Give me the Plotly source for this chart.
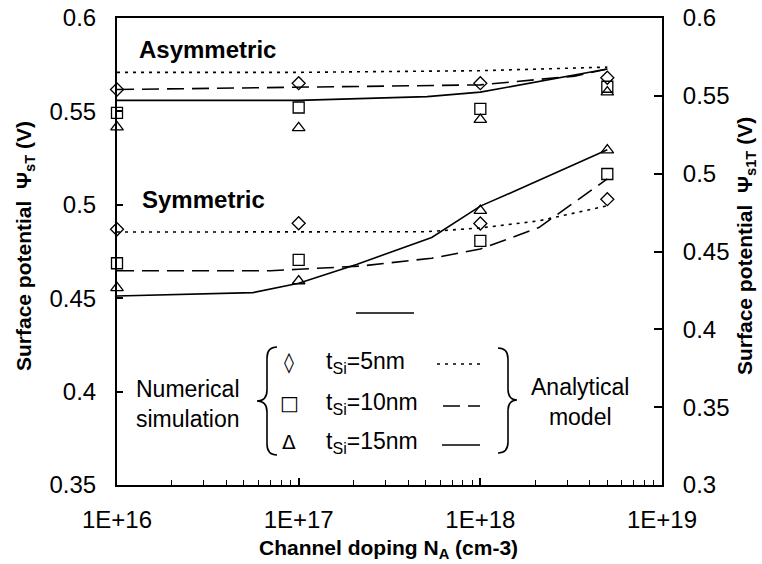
import plotly.graph_objects as go

# ---------------- data ----------------
doping = [1e16, 1e17, 1e18, 5e18]

# numerical simulation (markers)
asym_5nm = [0.5617, 0.5651, 0.5651, 0.5680]
asym_10nm = [0.5492, 0.5521, 0.5513, 0.5632]
asym_15nm = [0.5416, 0.5412, 0.5456, 0.5603]
sym_5nm = [0.4869, 0.4901, 0.4900, 0.5030]
sym_10nm = [0.4687, 0.4705, 0.4807, 0.5165]
sym_15nm = [0.4555, 0.4592, 0.4969, 0.5293]

# analytical model (lines)
asym_model_5_x = [1e16, 1e17, 1e18, 5e18]
asym_model_5_y = [0.5709, 0.5709, 0.5718, 0.5737]
asym_model_10_x = [1e16, 1e17, 1e18, 3.3e18, 5e18]
asym_model_10_y = [0.5617, 0.5628, 0.5642, 0.5689, 0.5727]
asym_model_15_x = [1e16, 1e17, 5.1e17, 1e18, 5e18]
asym_model_15_y = [0.5559, 0.5559, 0.5579, 0.5603, 0.5727]

sym_model_5_x = [1e16, 1e17, 5e17, 1e18, 2.1e18, 5e18]
sym_model_5_y = [0.4854, 0.4854, 0.4856, 0.4876, 0.4914, 0.4995]
sym_model_10_x = [1e16, 7e16, 1e17, 2.2e17, 5.4e17, 1e18, 2.1e18, 5e18]
sym_model_10_y = [0.4647, 0.4647, 0.4655, 0.4672, 0.4714, 0.4763, 0.4878, 0.5139]
sym_model_15_x = [1e16, 5.6e16, 1e17, 2.1e17, 5.4e17, 1e18, 1.55e18, 5e18]
sym_model_15_y = [0.4512, 0.4530, 0.4580, 0.4682, 0.4825, 0.4993, 0.5074, 0.5295]

x_tick_vals = [1e16, 1e17, 1e18, 1e19]
x_tick_text = ["1E+16", "1E+17", "1E+18", "1E+19"]
x_minor_vals = [k * 10 ** e for e in (16, 17, 18) for k in range(2, 10)]

legend_labels = ["t<sub>Si</sub>=5nm", "t<sub>Si</sub>=10nm", "t<sub>Si</sub>=15nm"]
legend_glyphs = ["\u25CA", "\u25A1", "\u0394"]

# ---------------- geometry helpers ----------------
W, H = 762, 564
L, R, T, B = 117, 100, 18, 79
PW, PH = W - L - R, H - T - B


def px(x):
    return (x - L) / PW


def py(y):
    return (H - B - y) / PH


FONT = "Liberation Sans, Arial, sans-serif"
BLACK = "#000000"

fig = go.Figure()

marker_syms = ["diamond-open", "square-open", "triangle-up-open"]
marker_sizes = [10, 11, 11]
for ys, ms, sz in zip([asym_5nm, asym_10nm, asym_15nm], marker_syms, marker_sizes):
    fig.add_trace(go.Scatter(x=doping, y=ys, mode="markers",
                             marker=dict(symbol=ms, size=sz, color=BLACK, line=dict(width=1.3, color=BLACK)),
                             cliponaxis=False, showlegend=False))
for ys, ms, sz in zip([sym_5nm, sym_10nm, sym_15nm], marker_syms, marker_sizes):
    fig.add_trace(go.Scatter(x=doping, y=ys, mode="markers",
                             marker=dict(symbol=ms, size=sz, color=BLACK, line=dict(width=1.3, color=BLACK)),
                             cliponaxis=False, showlegend=False))

dashes = ["3px,5px", "17px,8px", "solid"]
model_sets = [
    (asym_model_5_x, asym_model_5_y), (asym_model_10_x, asym_model_10_y), (asym_model_15_x, asym_model_15_y),
    (sym_model_5_x, sym_model_5_y), (sym_model_10_x, sym_model_10_y), (sym_model_15_x, sym_model_15_y),
]
for i, (xs, ys) in enumerate(model_sets):
    fig.add_trace(go.Scatter(x=xs, y=ys, mode="lines",
                             line=dict(color=BLACK, width=1.6, dash=dashes[i % 3]),
                             showlegend=False))

# dummy trace for right axis
fig.add_trace(go.Scatter(x=[1e16], y=[0.3], yaxis="y2", mode="markers",
                         marker=dict(opacity=0), showlegend=False, hoverinfo="skip"))

TICKFONT = dict(size=24, family=FONT, color=BLACK)
fig.update_layout(
    width=W, height=H,
    margin=dict(l=L, r=R, t=T, b=B, autoexpand=False),
    paper_bgcolor="white", plot_bgcolor="white",
    font=dict(family=FONT, color=BLACK, size=23),
    xaxis=dict(type="log", range=[16, 19], tickmode="array", tickvals=x_tick_vals, ticktext=x_tick_text,
               ticks="inside", ticklen=7, tickwidth=1.5, tickcolor=BLACK,
               minor=dict(tickmode="array", tickvals=x_minor_vals, ticks="inside", ticklen=5,
                          tickwidth=1, tickcolor=BLACK, showgrid=False),
               showline=True, linecolor=BLACK, linewidth=2, mirror=True,
               showgrid=False, zeroline=False, ticklabelstandoff=12,
               tickfont=TICKFONT, automargin=False),
    yaxis=dict(range=[0.35, 0.6], tick0=0.35, dtick=0.05, ticks="inside", ticklen=6, tickwidth=1.5,
               tickcolor=BLACK, showline=True, linecolor=BLACK, linewidth=2,
               showgrid=False, zeroline=False, ticklabelstandoff=14,
               tickfont=TICKFONT, automargin=False),
    yaxis2=dict(range=[0.3, 0.6], tick0=0.3, dtick=0.05, overlaying="y", side="right", anchor="x",
                ticks="inside", ticklen=8, tickwidth=1.5, tickcolor=BLACK,
                showline=True, linecolor=BLACK, linewidth=2,
                showgrid=False, zeroline=False, ticklabelstandoff=14,
                tickfont=TICKFONT, automargin=False),
)


def note(text, x, y, size=23, xanchor="center", **kw):
    return dict(text=text, x=px(x), y=py(y), xref="paper", yref="paper", showarrow=False,
                xanchor=xanchor, yanchor="middle", font=dict(size=size, family=kw.pop("family", FONT), color=BLACK),
                **kw)


ann = []
# axis titles
ann.append(note("<b>Channel doping N<sub>A</sub> (cm-3)</b>", 388, 549, size=21))
ann.append(note("<b>Surface potential  \u03A8<sub>sT</sub> (V)</b>", 25, 246, size=21, textangle=-90))
ann.append(note("<b>Surface potential  \u03A8<sub>s1T</sub> (V)</b>", 746, 246, size=21, textangle=-90))
# group labels
ann.append(note("<b>Asymmetric</b>", 137, 50, size=24, xanchor="left"))
ann.append(note("<b>Symmetric</b>", 140, 199, size=24, xanchor="left"))
# legend texts
ann.append(note("Numerical<br>simulation", 188, 404, align="center"))
ann.append(note("Analytical<br>model", 580, 402, align="center"))
legend_rows = [362, 403, 442]
for lab, gl, yy in zip(legend_labels, legend_glyphs, legend_rows):
    ann.append(note(lab, 324, yy, xanchor="left"))
    ann.append(note(gl, 289, yy, size=20, family="DejaVu Sans"))
fig.update_layout(annotations=ann)

shapes = []
# legend line samples
sample_y = [364, 406, 445]
sample_x0 = [437, 443, 442]
for yy, x0, d in zip(sample_y, sample_x0, dashes):
    shapes.append(dict(type="line", xref="paper", yref="paper", x0=px(x0), x1=px(480), y0=py(yy), y1=py(yy),
                       line=dict(color=BLACK, width=1.6, dash=d)))


def brace_path(pts):
    out = []
    for cmd, coords in pts:
        s = " ".join(f"{px(a):.5f},{py(b):.5f}" for a, b in coords)
        out.append(f"{cmd} {s}")
    return " ".join(out)


left_brace = brace_path([
    ("M", [(277, 347)]), ("Q", [(267, 347), (267, 358)]), ("L", [(267, 390)]),
    ("Q", [(267, 401), (257, 401)]), ("Q", [(267, 401), (267, 412)]), ("L", [(267, 444)]),
    ("Q", [(267, 455), (277, 455)]),
])
right_brace = brace_path([
    ("M", [(498, 348)]), ("Q", [(508, 348), (508, 359)]), ("L", [(508, 389)]),
    ("Q", [(508, 400), (517, 400)]), ("Q", [(508, 400), (508, 411)]), ("L", [(508, 442)]),
    ("Q", [(508, 453), (498, 453)]),
])
for p in (left_brace, right_brace):
    shapes.append(dict(type="path", path=p, xref="paper", yref="paper", line=dict(color=BLACK, width=1.6)))

# stray short segment in the reference
shapes.append(dict(type="line", xref="paper", yref="paper", x0=px(356), x1=px(414), y0=py(313), y1=py(313),
                   line=dict(color=BLACK, width=1.6)))
fig.update_layout(shapes=shapes)

fig.write_html("out.html")
